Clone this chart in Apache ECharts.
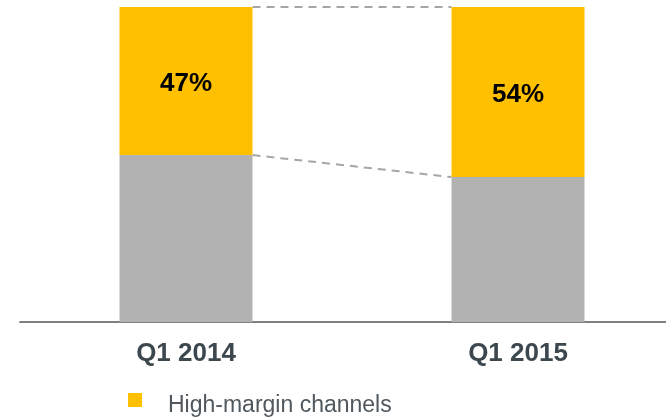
<!DOCTYPE html>
<html>
<head>
<meta charset="utf-8">
<script src="https://cdn.jsdelivr.net/npm/echarts@6/dist/echarts.min.js"></script>
<style>
    html, body {margin: 0; padding: 0; background: #fff; overflow: hidden;}
    /* plot runs past the right edge of the window, as in the original slide */
    #chart {width: 684px; height: 418px;}
</style>
</head>
<body>
<div id="chart"></div>
<script>
// values (share of sales, %)
const categories = ['Q1 2014', 'Q1 2015'];
const highMargin = [47, 54];
const otherChannels = [53, 46];
const legendNames = ['High-margin channels'];

const FONT = "'Liberation Sans', Arial, sans-serif";
const BAR_W = 133;

// dashed connectors between neighbouring bars, at the top and at the split
const connectors = categories.slice(0, -1).map((c, i) => [i, otherChannels[i], otherChannels[i + 1]]);

const chart = echarts.init(document.getElementById('chart'));
chart.setOption({
    animation: false,
    grid: {left: 20, top: 7, right: 0, bottom: 96},
    legend: {
        data: legendNames,
        left: 128,
        top: 393,
        padding: 0,
        icon: 'rect',
        itemWidth: 14,
        itemHeight: 14,
        formatter: '{t|{name}}',
        textStyle: {
            rich: {
                t: {fontFamily: FONT, fontSize: 23, color: '#4f585e', padding: [11, 0, 0, 21]}
            }
        }
    },
    xAxis: {
        type: 'category',
        data: categories,
        axisLine: {lineStyle: {color: '#808080', width: 2}},
        axisTick: {show: false},
        axisLabel: {
            margin: 19,
            fontFamily: FONT,
            fontSize: 26,
            fontWeight: 'bold',
            color: '#3c474e'
        }
    },
    yAxis: {type: 'value', min: 0, max: 100, show: false},
    series: [
        {
            name: 'Other channels',
            type: 'bar',
            stack: 'total',
            barWidth: BAR_W,
            data: otherChannels,
            itemStyle: {color: '#b2b2b2'}
        },
        {
            name: 'High-margin channels',
            type: 'bar',
            stack: 'total',
            barWidth: BAR_W,
            data: highMargin,
            itemStyle: {color: '#ffc000'},
            label: {
                show: true,
                position: 'inside',
                offset: [0, 3],
                formatter: '{c}%',
                fontFamily: FONT,
                fontSize: 26,
                fontWeight: 'bold',
                color: '#000'
            }
        },
        {
            name: 'connectors',
            type: 'custom',
            silent: true,
            z: 1,
            data: connectors,
            renderItem: (params, api) => {
                const i = api.value(0);
                const half = BAR_W / 2;
                const a1 = api.coord([i, 100]);
                const b1 = api.coord([i + 1, 100]);
                const a2 = api.coord([i, api.value(1)]);
                const b2 = api.coord([i + 1, api.value(2)]);
                const style = {stroke: '#a6a6a6', lineWidth: 2, lineDash: [8, 6]};
                return {
                    type: 'group',
                    children: [
                        {type: 'line', shape: {x1: a1[0] + half, y1: a1[1], x2: b1[0] - half, y2: b1[1]}, style},
                        {type: 'line', shape: {x1: a2[0] + half, y1: a2[1], x2: b2[0] - half, y2: b2[1]}, style}
                    ]
                };
            }
        }
    ]
});
</script>
</body>
</html>
